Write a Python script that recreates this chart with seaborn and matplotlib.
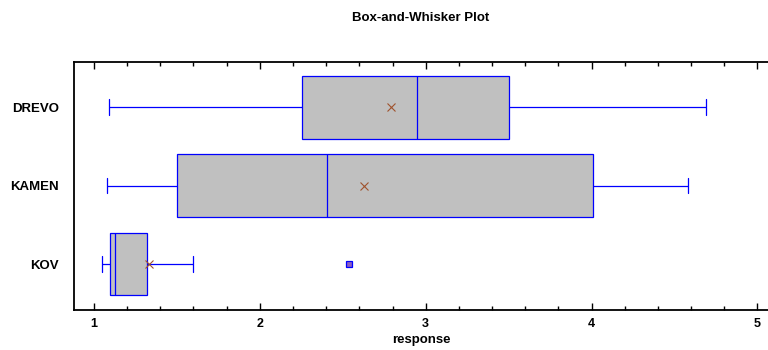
import matplotlib
matplotlib.use('Agg')
import matplotlib.pyplot as plt
import pandas as pd
import seaborn as sns
from matplotlib.ticker import MultipleLocator

groups = ['DREVO', 'KAMEN', 'KOV']
drevo = [1.09, 1.5, 2.254, 2.4, 2.945, 3.1, 3.5, 3.613, 4.69]
kamen = [1.076, 1.3, 1.5, 1.9, 2.407, 2.8, 4.006, 4.074, 4.58]
kov = [1.046, 1.05, 1.098, 1.10, 1.126, 1.13, 1.319, 1.596, 2.535]

df = pd.DataFrame({
    'group': ['DREVO'] * len(drevo) + ['KAMEN'] * len(kamen) + ['KOV'] * len(kov),
    'response': drevo + kamen + kov,
})

sns.set_style('ticks')
plt.rcParams['font.family'] = ['Liberation Sans', 'DejaVu Sans']
plt.rcParams['font.weight'] = 'bold'
plt.rcParams['text.color'] = 'black'
plt.rcParams['xtick.color'] = 'black'
plt.rcParams['ytick.color'] = 'black'
plt.rcParams['axes.labelcolor'] = 'black'

fig = plt.figure(figsize=(7.68, 3.5), dpi=100)
ax = fig.add_axes([0.0964, 0.1143, 0.905, 0.7094])

blue = '#0000FF'
sns.boxplot(
    data=df, x='response', y='group', order=groups, ax=ax,
    orient='h', width=0.8, whis=1.5, color='#C0C0C0',
    linecolor=blue, linewidth=0.9,
    showmeans=True,
    meanprops={'marker': 'x', 'markeredgecolor': '#A0522D', 'markersize': 6,
               'markeredgewidth': 0.8},
    flierprops={'marker': 's', 'markerfacecolor': '#8A5FC0', 'markeredgecolor': blue,
                'markersize': 5, 'markeredgewidth': 0.9},
    capwidths=0.2,
)
for p in ax.patches:
    p.set_facecolor('#C0C0C0')
    p.set_edgecolor(blue)

ax.set_xlim(0.88, 5.07)
ax.set_ylim(2.587, -0.582)
ax.xaxis.set_major_locator(MultipleLocator(1))
ax.xaxis.set_minor_locator(MultipleLocator(0.2))
ax.tick_params(axis='x', which='both', direction='in', top=True, bottom=True,
               labelsize=9, width=1, pad=6)
ax.tick_params(axis='x', which='major', length=5)
ax.tick_params(axis='x', which='minor', length=3)
ax.tick_params(axis='y', length=0, labelsize=9.5, pad=11)
for lab in ax.get_xticklabels() + ax.get_yticklabels():
    lab.set_fontweight('bold')

for s in ['left', 'bottom', 'top']:
    ax.spines[s].set_linewidth(1.3)
    ax.spines[s].set_color('black')
ax.spines['right'].set_visible(False)

ax.set_ylabel('')
ax.set_xlabel('response', fontsize=9.5, fontweight='bold', labelpad=3)
fig.suptitle('Box-and-Whisker Plot', x=0.548, y=0.965, fontsize=9.5, fontweight='bold')

fig.savefig('out.png', dpi=100)
